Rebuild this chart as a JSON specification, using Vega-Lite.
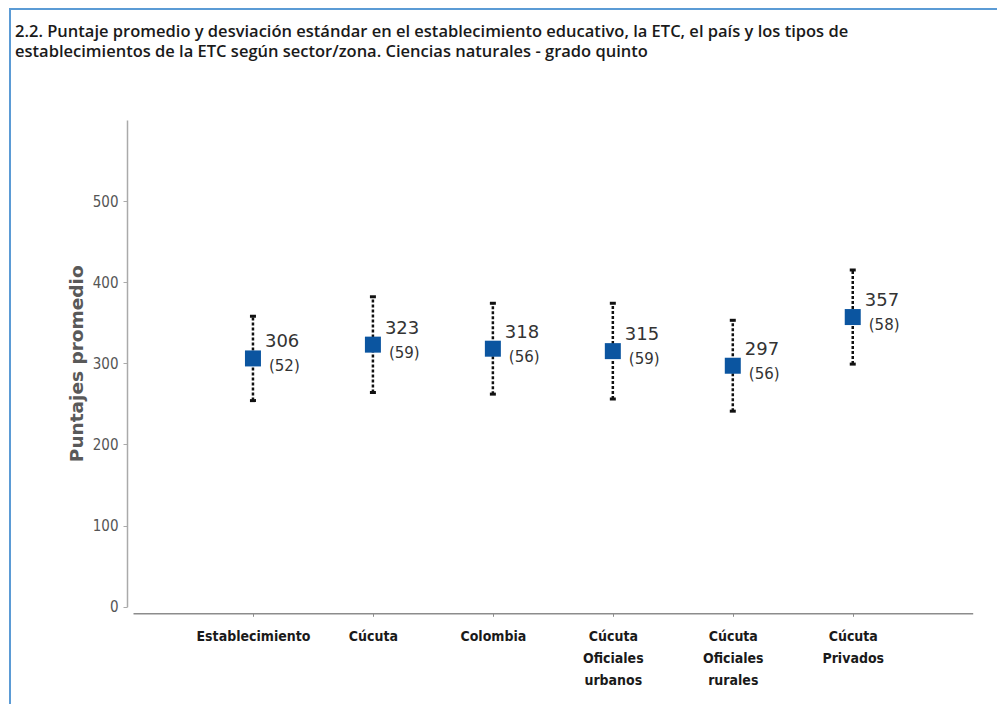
{
  "$schema": "https://vega.github.io/schema/vega-lite/v6.json",
  "autosize": {"type": "none"},
  "padding": {"left": 10, "top": 9, "right": 0, "bottom": 0},
  "width": 987,
  "height": 695,
  "background": "white",
  "config": {
    "view": {"stroke": "#5b9bd5", "strokeWidth": 2, "strokeDash": [987, 1682, 695]},
    "font": "DejaVu Sans"
  },
  "title": {
    "text": [
      "2.2. Puntaje promedio y desviación estándar en el establecimiento educativo, la ETC, el país y los tipos de",
      "\u00a0\u00a0\u00a0\u00a0\u00a0\u00a0\u00a0\u00a0\u00a0establecimientos de la ETC según sector/zona. Ciencias naturales - grado quinto"
    ],
    "anchor": "start",
    "frame": "group",
    "offset": -51,
    "dx": 5,
    "font": "Open Sans",
    "fontSize": 16.5,
    "fontWeight": 600,
    "color": "#1a1a1a",
    "lineHeight": 19.5
  },
  "data": {
    "values": [
      {"categoria": "Establecimiento", "promedio": 306, "de": 52, "de_texto": "(52)", "bajo": 254, "alto": 358},
      {"categoria": "Cúcuta", "promedio": 323, "de": 59, "de_texto": "(59)", "bajo": 264, "alto": 382},
      {"categoria": "Colombia", "promedio": 318, "de": 56, "de_texto": "(56)", "bajo": 262, "alto": 374},
      {"categoria": "Cúcuta Oficiales urbanos", "promedio": 315, "de": 59, "de_texto": "(59)", "bajo": 256, "alto": 374},
      {"categoria": "Cúcuta Oficiales rurales", "promedio": 297, "de": 56, "de_texto": "(56)", "bajo": 241, "alto": 353},
      {"categoria": "Cúcuta Privados", "promedio": 357, "de": 58, "de_texto": "(58)", "bajo": 299, "alto": 415}
    ]
  },
  "encoding": {
    "x": {
      "field": "categoria",
      "type": "ordinal",
      "sort": null,
      "scale": {"type": "point", "range": [123, 962.7], "padding": 1},
      "axis": {
        "title": null,
        "offset": -90.7,
        "labelAngle": 0,
        "labelExpr": "split(datum.value, ' ')",
        "labelFont": "DejaVu Sans Condensed",
        "labelFontSize": 14,
        "labelFontWeight": "bold",
        "labelColor": "#1a1a1a",
        "labelLineHeight": 22,
        "labelPadding": 13,
        "domainColor": "#8c8c8c",
        "domainWidth": 1.5,
        "tickColor": "#8c8c8c",
        "tickSize": 3,
        "grid": false
      }
    }
  },
  "layer": [
    {
      "mark": {"type": "rule", "color": "#111111", "strokeWidth": 2.5, "strokeDash": [3, 2]},
      "encoding": {
        "y": {
          "field": "bajo",
          "type": "quantitative",
          "scale": {"domain": [0, 600], "range": [597.7, 110.9], "nice": false},
          "axis": {
            "title": "Puntajes promedio",
            "offset": -117,
            "values": [0, 100, 200, 300, 400, 500],
            "grid": false,
            "labelFont": "DejaVu Sans Condensed",
            "labelFontSize": 15,
            "labelColor": "#555555",
            "labelPadding": 5,
            "tickSize": 4,
            "tickColor": "#aaaaaa",
            "domainColor": "#aaaaaa",
            "domainWidth": 1.5,
            "titleFont": "DejaVu Sans",
            "titleFontSize": 18.5,
            "titleFontWeight": "bold",
            "titleColor": "#595959",
            "titlePadding": 6
          }
        },
        "y2": {"field": "alto"}
      }
    },
    {
      "mark": {"type": "point", "shape": "M-1,-0.5H1V0.5H-1Z", "filled": true, "color": "#111111", "size": 36, "opacity": 1},
      "encoding": {"y": {"field": "bajo", "type": "quantitative"}}
    },
    {
      "mark": {"type": "point", "shape": "M-1,-0.5H1V0.5H-1Z", "filled": true, "color": "#111111", "size": 36, "opacity": 1},
      "encoding": {"y": {"field": "alto", "type": "quantitative"}}
    },
    {
      "mark": {"type": "point", "shape": "square", "filled": true, "color": "#0b55a0", "size": 256, "opacity": 1},
      "encoding": {"y": {"field": "promedio", "type": "quantitative"}}
    },
    {
      "mark": {"type": "text", "align": "left", "baseline": "middle", "dx": 12, "dy": -16, "fontSize": 18, "color": "#333333", "font": "DejaVu Sans"},
      "encoding": {"y": {"field": "promedio", "type": "quantitative"}, "text": {"field": "promedio", "type": "quantitative"}}
    },
    {
      "mark": {"type": "text", "align": "left", "baseline": "middle", "dx": 16, "dy": 8, "fontSize": 15, "color": "#333333", "font": "DejaVu Sans"},
      "encoding": {"y": {"field": "promedio", "type": "quantitative"}, "text": {"field": "de_texto", "type": "nominal"}}
    }
  ]
}
